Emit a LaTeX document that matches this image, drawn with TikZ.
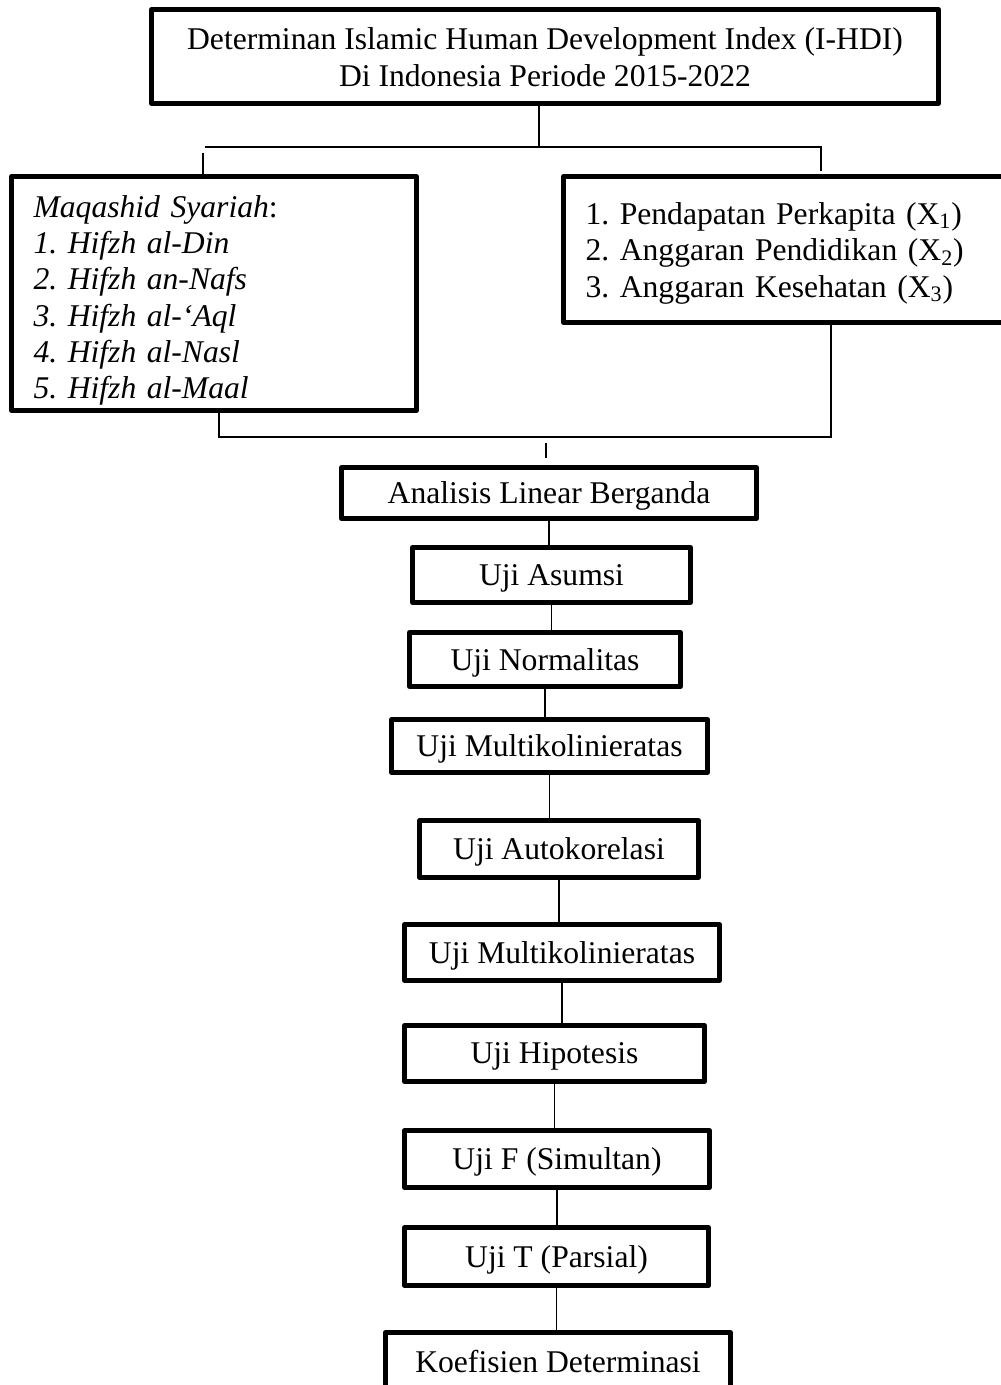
\documentclass[tikz,border=0pt]{standalone}
\usepackage{fontspec}
\setmainfont{Liberation Serif}
\frenchspacing

\begin{document}
\begin{tikzpicture}[x=0.02cm,y=-0.02cm]
    \useasboundingbox (0,0) rectangle (1000,1385);
    \tikzstyle{every node}=[font=\fontsize{18pt}{20.7pt}\selectfont]
    \tikzstyle{box}=[draw,line width=2.8pt,line join=round,inner sep=0pt]
    \tikzstyle{testbox}=[box,text depth=0pt]
    \tikzstyle{link}=[line width=0.9pt]
    \draw node[box,minimum width=15.74cm,minimum height=1.88cm,align=center,font=\fontsize{18pt}{21.2pt}\selectfont,text height=1.22cm,text depth=0pt](title)at(545,56.5)
            {Determinan Islamic Human Development Index (I-HDI)\\Di Indonesia Periode 2015-2022}
          node[box,minimum width=8.1cm,minimum height=4.68cm,inner xsep=0.44cm,text width=7.22cm,align=left,text height=0.72cm,text depth=3.78cm](maqashid)at(214,293.5)
            {\textit{Maqashid Syariah}:\\\textit{1. Hifzh al-Din}\\\textit{2. Hifzh an-Nafs}\\\textit{3. Hifzh al-‘Aql}\\\textit{4. Hifzh al-Nasl}\\\textit{5. Hifzh al-Maal}}
          node[box,minimum width=10.5cm,minimum height=2.92cm,inner xsep=0.44cm,text width=9.62cm,align=left,font=\fontsize{18pt}{20.9pt}\selectfont,text height=0.72cm,text depth=1.74cm](indikator)at(826,249.5)
            {1. Pendapatan Perkapita (X\textsubscript{1})\\2. Anggaran Pendidikan (X\textsubscript{2})\\3. Anggaran Kesehatan (X\textsubscript{3})};
    \draw node[testbox,minimum width=8.3cm,minimum height=1.02cm](analisis)at(549,493){Analisis Linear Berganda}
          node[testbox,minimum width=5.56cm,minimum height=1.1cm](asumsi)at(551.5,575){Uji Asumsi}
          node[testbox,minimum width=5.42cm,minimum height=1.08cm](normalitas)at(545,659.5){Uji Normalitas}
          node[testbox,minimum width=6.32cm,minimum height=1.06cm](multiA)at(549.5,746){Uji Multikolinieratas}
          node[testbox,minimum width=5.58cm,minimum height=1.14cm](autokorelasi)at(559,849){Uji Autokorelasi}
          node[testbox,minimum width=6.3cm,minimum height=1.12cm](multiB)at(562,952.5){Uji Multikolinieratas}
          node[testbox,minimum width=6cm,minimum height=1.12cm](hipotesis)at(554.5,1053.5){Uji Hipotesis}
          node[testbox,minimum width=6.1cm,minimum height=1.14cm](ujiF)at(557,1159){Uji F (Simultan)}
          node[testbox,minimum width=6.08cm,minimum height=1.16cm](ujiT)at(556.5,1256.5){Uji T (Parsial)}
          node[testbox,minimum width=6.9cm,minimum height=1.14cm](koefisien)at(558,1361){Koefisien Determinasi};
    \coordinate (split) at (539,147);
    \coordinate (hleft) at (205,147);
    \coordinate (ldrop) at (203,153);
    \coordinate (rdrop) at (821,171);
    \coordinate (ljoin) at (219,437);
    \coordinate (rjoin) at (831,437);
    \coordinate (tick) at (546,443);
    \draw[link] (split |- title.south) -- (split);
    \draw[link] (hleft) -- (split) -| (rdrop);
    \draw[link] (ldrop) -- (ldrop |- maqashid.north);
    \draw[link] (ljoin |- maqashid.south) -- (ljoin) -- (rjoin) -- (rjoin |- indikator.south);
    \draw[link] (tick) -- ++(0,15);
    \foreach \a/\b in {analisis/asumsi,asumsi/normalitas,normalitas/multiA,multiA/autokorelasi,autokorelasi/multiB,multiB/hipotesis,hipotesis/ujiF,ujiF/ujiT,ujiT/koefisien}
        \draw[link] (\a.south) -- (\a.south |- \b.north);
\end{tikzpicture}
\end{document}
